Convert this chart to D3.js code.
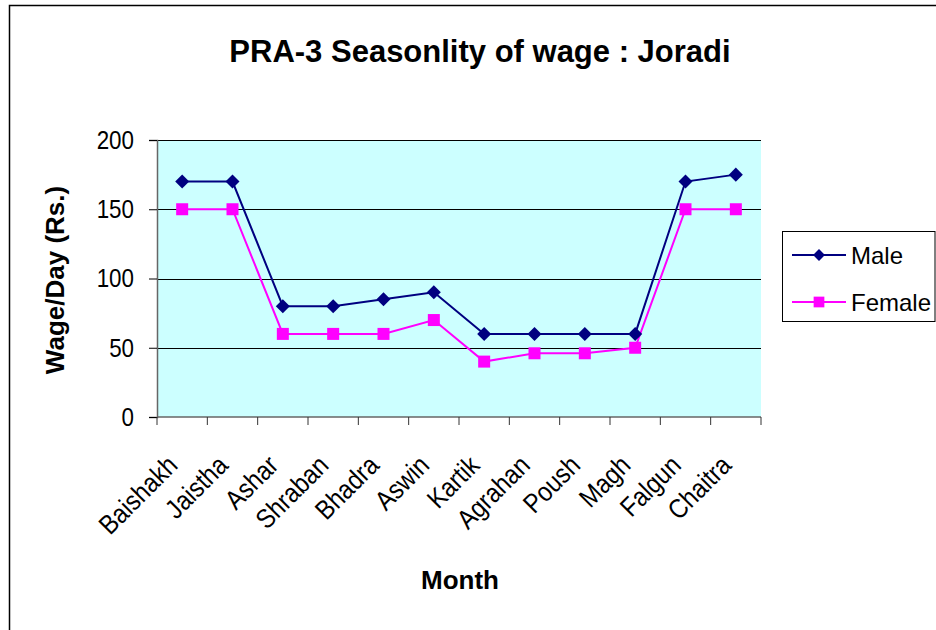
<html>
<head>
<script src="https://d3js.org/d3.v7.min.js"></script>
<style>
  body { margin: 0; background: #fff; }
  text { font-family: Arial, "Liberation Sans", sans-serif; }
</style>
</head>
<body>
<div id="chart"></div>
<script>
var months = ["Baishakh", "Jaistha", "Ashar", "Shraban", "Bhadra", "Aswin",
              "Kartik", "Agrahan", "Poush", "Magh", "Falgun", "Chaitra"];
var maleWage = [170, 170, 80, 80, 85, 90, 60, 60, 60, 60, 170, 175];
var femaleWage = [150, 150, 60, 60, 60, 70, 40, 46, 46, 50, 150, 150];
var yTicks = [0, 50, 100, 150, 200];

var W = 936, H = 630;
var plot = {left: 157, top: 140, right: 761, bottom: 417};

// squeeze text a bit horizontally, the original uses a narrow-looking font
function condense(sel, k) {
  sel.each(function() {
    var w = this.getComputedTextLength();
    this.setAttribute("textLength", w * k);
    this.setAttribute("lengthAdjust", "spacingAndGlyphs");
  });
}

var svg = d3.select("#chart").append("svg")
  .attr("width", W).attr("height", H);

// outer chart frame
svg.append("rect")
  .attr("x", 9.5).attr("y", 5.5)
  .attr("width", W + 20).attr("height", H + 20)
  .attr("fill", "#fff").attr("stroke", "#000").attr("stroke-width", 1.5);

var x = d3.scaleBand().domain(months).range([plot.left, plot.right]);
var y = d3.scaleLinear().domain([0, 200]).range([plot.bottom, plot.top]);

// plot background
svg.append("rect")
  .attr("x", plot.left).attr("y", plot.top)
  .attr("width", plot.right - plot.left).attr("height", plot.bottom - plot.top)
  .attr("fill", "#ccffff");

// gridlines
svg.selectAll(".grid").data(yTicks.filter(function(d){ return d > 0; }))
  .enter().append("line")
    .attr("x1", plot.left).attr("x2", plot.right)
    .attr("y1", function(d){ return Math.round(y(d)) + 0.5; })
    .attr("y2", function(d){ return Math.round(y(d)) + 0.5; })
    .attr("stroke", "#000").attr("stroke-width", 1);

// y axis
var yAxis = svg.append("g")
  .attr("transform", "translate(" + plot.left + ",0)")
  .call(d3.axisLeft(y).tickValues(yTicks).tickSize(8).tickPadding(15));
yAxis.select(".domain").attr("stroke", "#666").attr("stroke-width", 1.5);
yAxis.selectAll(".tick line").attr("stroke", "#000");
yAxis.selectAll("text").attr("font-size", "26px").attr("fill", "#000")
  .attr("font-family", "Arial, 'Liberation Sans', sans-serif")
  .call(condense, 0.86);

// x axis: ticks between categories
var xAxis = svg.append("g")
  .attr("transform", "translate(0," + plot.bottom + ")");
xAxis.append("line")
  .attr("x1", plot.left).attr("x2", plot.right)
  .attr("stroke", "#666").attr("stroke-width", 1.5);
var bounds = months.map(function(m){ return x(m); }).concat([plot.right]);
xAxis.selectAll(".xt").data(bounds).enter().append("line")
  .attr("x1", function(d){ return d; }).attr("x2", function(d){ return d; })
  .attr("y1", 0).attr("y2", 8).attr("stroke", "#333");
xAxis.selectAll(".xl").data(months).enter().append("text")
  .attr("transform", function(d){
    return "translate(" + (x(d) + x.bandwidth() / 2 - 3) + ",50) rotate(-45)";
  })
  .attr("text-anchor", "end")
  .attr("font-size", "27px")
  .text(function(d){ return d; })
  .call(condense, 0.88);

// lines + markers
var line = d3.line()
  .x(function(d, i){ return x(months[i]) + x.bandwidth() / 2; })
  .y(function(d){ return y(d); });

svg.append("path").datum(femaleWage)
  .attr("d", line).attr("fill", "none")
  .attr("stroke", "#ff00ff").attr("stroke-width", 2);
svg.append("path").datum(maleWage)
  .attr("d", line).attr("fill", "none")
  .attr("stroke", "#000080").attr("stroke-width", 2);

svg.selectAll(".fm").data(femaleWage).enter().append("rect")
  .attr("x", function(d, i){ return x(months[i]) + x.bandwidth() / 2 - 6; })
  .attr("y", function(d){ return y(d) - 6; })
  .attr("width", 12).attr("height", 12)
  .attr("fill", "#ff00ff");

var diamond = d3.symbol().type(d3.symbolDiamond2).size(125);
svg.selectAll(".mm").data(maleWage).enter().append("path")
  .attr("transform", function(d, i){
    return "translate(" + (x(months[i]) + x.bandwidth() / 2) + "," + y(d) + ")";
  })
  .attr("d", diamond)
  .attr("fill", "#000080");

// title
svg.append("text")
  .attr("x", 480).attr("y", 62)
  .attr("text-anchor", "middle")
  .attr("font-size", "31px").attr("font-weight", "bold")
  .text("PRA-3 Seasonlity of wage : Joradi");

// axis titles
svg.append("text")
  .attr("transform", "translate(64,280) rotate(-90)")
  .attr("text-anchor", "middle")
  .attr("font-size", "26px").attr("font-weight", "bold")
  .text("Wage/Day (Rs.)");
svg.append("text")
  .attr("x", 460).attr("y", 589)
  .attr("text-anchor", "middle")
  .attr("font-size", "26px").attr("font-weight", "bold")
  .text("Month");

// legend
var legend = svg.append("g");
legend.append("rect")
  .attr("x", 782.5).attr("y", 231.5)
  .attr("width", 152.5).attr("height", 90)
  .attr("fill", "#fff").attr("stroke", "#000").attr("stroke-width", 1);
var series = [
  {name: "Male", color: "#000080", sym: "diamond"},
  {name: "Female", color: "#ff00ff", sym: "square"}
];
var items = legend.selectAll(".li").data(series).enter().append("g")
  .attr("transform", function(d, i){ return "translate(792," + (255 + i * 47) + ")"; });
items.append("line").attr("x1", 0).attr("x2", 54)
  .attr("stroke", function(d){ return d.color; }).attr("stroke-width", 2);
items.append("path")
  .attr("transform", "translate(27,0)")
  .attr("d", function(d){
    return d.sym === "diamond"
      ? d3.symbol().type(d3.symbolDiamond2).size(90)()
      : d3.symbol().type(d3.symbolSquare).size(115)();
  })
  .attr("fill", function(d){ return d.color; });
items.append("text")
  .attr("x", 59).attr("y", 9)
  .attr("font-size", "24px")
  .text(function(d){ return d.name; });
</script>
</body>
</html>
